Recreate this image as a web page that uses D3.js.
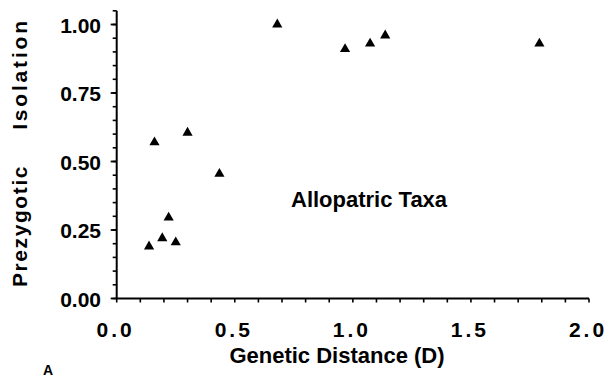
<!DOCTYPE html>
<html>
<head>
<meta charset="utf-8">
<script src="https://cdn.jsdelivr.net/npm/d3@7"></script>
<style>
  body { margin: 0; background: #fff; }
  svg { display: block; }
  text { font-family: "Liberation Sans", Arial, Helvetica, sans-serif; font-weight: bold; fill: #000; }
</style>
</head>
<body>
<svg id="chart" width="608" height="377"></svg>
<script>
// Data
const distance = [0.68, 0.16, 0.30, 0.435, 0.967, 1.073, 1.137, 1.79, 0.137, 0.193, 0.22, 0.25];
const isolation = [1.00, 0.57, 0.605, 0.455, 0.91, 0.93, 0.96, 0.93, 0.19, 0.22, 0.295, 0.205];
const xTicks = [0, 0.5, 1.0, 1.5, 2.0];
const yTicks = [0, 0.25, 0.5, 0.75, 1.0];

const svg = d3.select('#chart');

const x = d3.scaleLinear().domain([0, 2]).range([116.7, 589]);
const y = d3.scaleLinear().domain([0, 1]).range([298.5, 24.5]);

// Axis lines
svg.append('line')
    .attr('x1', x(0)).attr('x2', x(2))
    .attr('y1', y(0)).attr('y2', y(0))
    .attr('stroke', '#000').attr('stroke-width', 2);
svg.append('line')
    .attr('x1', x(0)).attr('x2', x(0))
    .attr('y1', y(0)).attr('y2', y(1.05))
    .attr('stroke', '#000').attr('stroke-width', 2);

// Minor ticks
svg.append('g').selectAll('line')
    .data(d3.range(0, 21).map(i => i / 10))
    .enter().append('line')
    .attr('x1', d => x(d)).attr('x2', d => x(d))
    .attr('y1', y(0)).attr('y2', y(0) + 4)
    .attr('stroke', '#000').attr('stroke-width', 1.6);

svg.append('g').selectAll('line')
    .data(d3.range(0, 22).map(i => i / 20))
    .enter().append('line')
    .attr('x1', x(0) - 4).attr('x2', x(0))
    .attr('y1', d => y(d)).attr('y2', d => y(d))
    .attr('stroke', '#000').attr('stroke-width', 1.6);

// Major y ticks a little longer
svg.append('g').selectAll('line')
    .data(yTicks)
    .enter().append('line')
    .attr('x1', x(0) - 6).attr('x2', x(0))
    .attr('y1', d => y(d)).attr('y2', d => y(d))
    .attr('stroke', '#000').attr('stroke-width', 1.8);

// Tick labels
svg.append('g').selectAll('text')
    .data(yTicks)
    .enter().append('text')
    .attr('x', 101)
    .attr('y', d => y(d) + 8)
    .attr('text-anchor', 'end')
    .attr('font-size', '21px')
    .text(d => d3.format('.2f')(d));

svg.append('g').selectAll('text')
    .data(xTicks)
    .enter().append('text')
    .attr('x', d => x(d) - 1)
    .attr('y', 337)
    .attr('text-anchor', 'middle')
    .attr('font-size', '21px')
    .attr('letter-spacing', '3px')
    .text(d => d3.format('.1f')(d));

// Axis titles
svg.append('text')
    .attr('x', 337).attr('y', 363)
    .attr('text-anchor', 'middle')
    .attr('font-size', '22px')
    .text('Genetic Distance (D)');

svg.append('text')
    .attr('transform', 'translate(27,226) rotate(-90)')
    .attr('text-anchor', 'middle')
    .attr('font-size', '21px')
    .attr('letter-spacing', '1.6px')
    .text('Prezygotic');

svg.append('text')
    .attr('transform', 'translate(27,74) rotate(-90)')
    .attr('text-anchor', 'middle')
    .attr('font-size', '21px')
    .attr('letter-spacing', '2.8px')
    .text('Isolation');

// Annotation and panel letter
svg.append('text')
    .attr('x', 291).attr('y', 207)
    .attr('font-size', '22px')
    .text('Allopatric Taxa');

svg.append('text')
    .attr('x', 43).attr('y', 375)
    .attr('font-size', '14px')
    .text('A');

// Points
svg.append('g').selectAll('path')
    .data(distance.map((d, i) => ({ d, iso: isolation[i] })))
    .enter().append('path')
    .attr('d', d3.symbol().type(d3.symbolTriangle).size(45))
    .attr('transform', p => `translate(${x(p.d)},${y(p.iso)})`)
    .attr('fill', '#000');
</script>
</body>
</html>
